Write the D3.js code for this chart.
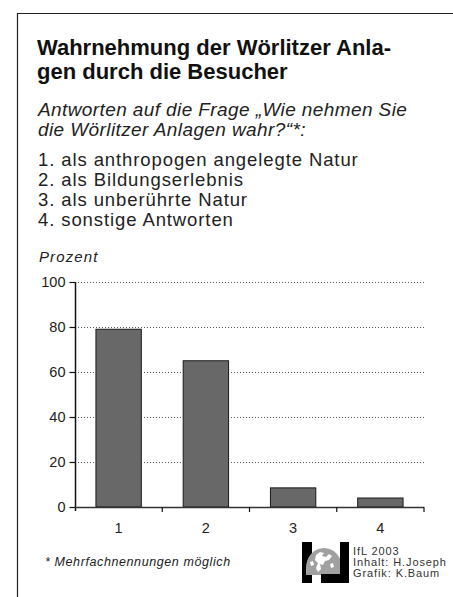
<!DOCTYPE html>
<html>
<head>
<meta charset="utf-8">
<script src="https://cdn.jsdelivr.net/npm/d3@7"></script>
<style>
  body { margin: 0; background: #fff; }
  svg { display: block; font-family: "Liberation Sans", Arial, sans-serif; }
</style>
</head>
<body>
<svg id="chart" width="453" height="597"></svg>
<script>
const categories = ["1", "2", "3", "4"];
const values = [79, 65, 8.5, 4];
const yTicks = [0, 20, 40, 60, 80, 100];
const titleLines = ["Wahrnehmung der Wörlitzer Anla-", "gen durch die Besucher"];
const subtitleLines = ["Antworten auf die Frage „Wie nehmen Sie", "die Wörlitzer Anlagen wahr?“*:"];
const answers = ["1. als anthropogen angelegte Natur", "2. als Bildungserlebnis", "3. als unberührte Natur", "4. sonstige Antworten"];
const credits = ["IfL 2003", "Inhalt: H.Joseph", "Grafik: K.Baum"];

const svg = d3.select("#chart");

// open frame (left and top only)
svg.append("path")
    .attr("d", "M17.5,597 V13.5 H453")
    .attr("fill", "none")
    .attr("stroke", "#222")
    .attr("stroke-width", 1.2);

// header texts
svg.append("g").selectAll("text")
    .data(titleLines)
    .enter().append("text")
    .attr("x", 37)
    .attr("y", (d, i) => 55 + i * 24)
    .attr("font-size", 22)
    .attr("font-weight", "bold")
    .attr("fill", "#111")
    .text(d => d);

svg.append("g").selectAll("text")
    .data(subtitleLines)
    .enter().append("text")
    .attr("x", 38)
    .attr("y", (d, i) => 116 + i * 19.5)
    .attr("font-size", 19)
    .attr("letter-spacing", 0.4)
    .attr("font-style", "italic")
    .attr("fill", "#222")
    .text(d => d);

svg.append("g").selectAll("text")
    .data(answers)
    .enter().append("text")
    .attr("x", 38)
    .attr("y", (d, i) => 165.5 + i * 20.3)
    .attr("font-size", 18.5)
    .attr("letter-spacing", 0.9)
    .attr("fill", "#222")
    .text(d => d);

svg.append("text")
    .attr("x", 39)
    .attr("y", 262)
    .attr("font-size", 15)
    .attr("letter-spacing", 1.1)
    .attr("font-style", "italic")
    .attr("fill", "#222")
    .text("Prozent");

// chart area
const plotLeft = 75, plotRight = 424, plotTop = 282, plotBottom = 507;

const x = d3.scaleBand()
    .domain(categories)
    .range([plotLeft, plotRight])
    .paddingInner(0.48)
    .paddingOuter(0.24);

const xb = d3.scaleBand()
    .domain(categories)
    .range([plotLeft, plotRight]);

const y = d3.scaleLinear()
    .domain([0, 100])
    .range([plotBottom, plotTop]);

// dotted gridlines
svg.append("g").selectAll("line")
    .data(yTicks.filter(d => d > 0))
    .enter().append("line")
    .attr("x1", plotLeft)
    .attr("x2", plotRight)
    .attr("y1", d => Math.round(y(d)) + 0.5)
    .attr("y2", d => Math.round(y(d)) + 0.5)
    .attr("stroke", "#555")
    .attr("stroke-width", 1)
    .attr("stroke-dasharray", "1,2");

// bars
svg.append("g").selectAll("rect")
    .data(values)
    .enter().append("rect")
    .attr("x", (d, i) => x(categories[i]))
    .attr("y", d => y(d))
    .attr("width", x.bandwidth())
    .attr("height", d => plotBottom - y(d))
    .attr("fill", "#686868")
    .attr("stroke", "#1a1a1a")
    .attr("stroke-width", 1);

// y axis
const yAxis = svg.append("g")
    .attr("transform", `translate(${plotLeft + 0.5},0)`)
    .call(d3.axisLeft(y).tickValues(yTicks).tickSize(6).tickPadding(4));
yAxis.select(".domain").attr("d", `M0,${plotTop} V${plotBottom + 4}`).attr("stroke", "#111").attr("stroke-width", 1.5);
yAxis.selectAll(".tick line").attr("stroke", "#111").attr("stroke-width", 1.2);
yAxis.selectAll("text")
    .attr("font-family", "Liberation Sans, Arial, sans-serif")
    .attr("font-size", 14.5)
    .attr("fill", "#222");

// x axis: line with ticks at band boundaries, labels at band centres
svg.append("line")
    .attr("x1", plotLeft)
    .attr("x2", plotRight)
    .attr("y1", plotBottom + 0.5)
    .attr("y2", plotBottom + 0.5)
    .attr("stroke", "#333")
    .attr("stroke-width", 1.6);

svg.append("g").selectAll("line")
    .data(categories)
    .enter().append("line")
    .attr("x1", d => xb(d) + xb.bandwidth())
    .attr("x2", d => xb(d) + xb.bandwidth())
    .attr("y1", plotBottom)
    .attr("y2", plotBottom + 5)
    .attr("stroke", "#111")
    .attr("stroke-width", 1.2);

svg.append("g").selectAll("text")
    .data(categories)
    .enter().append("text")
    .attr("x", d => xb(d) + xb.bandwidth() / 2)
    .attr("y", 533)
    .attr("text-anchor", "middle")
    .attr("font-size", 14.5)
    .attr("fill", "#222")
    .text(d => d);

// footnote
svg.append("text")
    .attr("x", 45)
    .attr("y", 566)
    .attr("font-size", 12.5)
    .attr("letter-spacing", 0.6)
    .attr("font-style", "italic")
    .attr("fill", "#222")
    .text("* Mehrfachnennungen möglich");

// logo (simplified IfL mark: black bars around a grey globe)
const logo = svg.append("g").attr("transform", "translate(302,542)");
logo.append("rect").attr("x", 0).attr("y", 0).attr("width", 10).attr("height", 41).attr("fill", "#000");
logo.append("path")
    .attr("d", "M4,26 A18,20 0 0 1 40,26 V33 H4 Z")
    .attr("fill", "#a0a0a0");
logo.append("path")
    .attr("d", "M14,13 L18,10 L22,11 L20,14 L24,15 L27,12 L30,14 L27,18 L23,19 L21,23 L18,22 L19,27 L16,30 L14,26 L16,21 L13,18 Z")
    .attr("fill", "#fff");
logo.append("path")
    .attr("d", "M8,20 L11,19 L12,23 L9,24 Z M28,22 L31,21 L32,25 L29,26 Z")
    .attr("fill", "#fff");
logo.append("rect").attr("x", 38).attr("y", 0).attr("width", 9).attr("height", 41).attr("fill", "#000");
logo.append("rect").attr("x", 19).attr("y", 32).attr("width", 28).attr("height", 9).attr("fill", "#000");

svg.append("g").selectAll("text")
    .data(credits)
    .enter().append("text")
    .attr("x", 353)
    .attr("y", (d, i) => 555 + i * 11)
    .attr("font-size", 11)
    .attr("letter-spacing", 0.9)
    .attr("fill", "#333")
    .text(d => d);
</script>
</body>
</html>
